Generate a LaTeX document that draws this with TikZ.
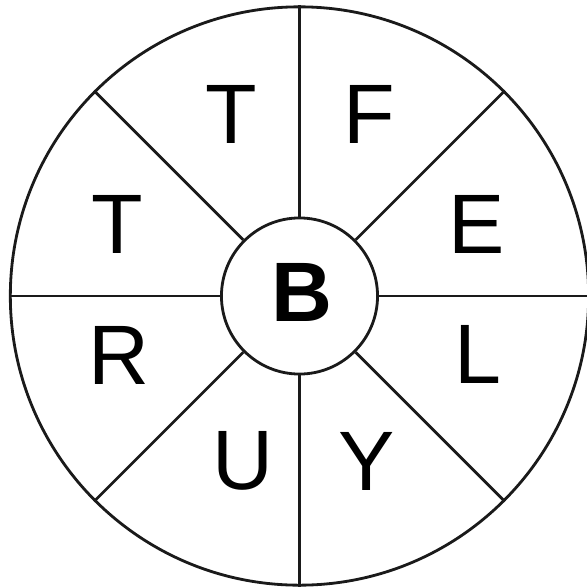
\documentclass[tikz,border=0pt]{standalone}
\usepackage{fontspec}
\setmainfont{Liberation Sans}
\usepackage{tikz}
\usetikzlibrary{shapes.geometric, positioning, calc}
\usepackage{xcolor}
\definecolor{WheelLine}{HTML}{1A1A1A}
\definecolor{WheelText}{HTML}{000000}
\definecolor{WheelFill}{HTML}{ffffff}
\tikzset{
    % Circle styles
    rim/.style={
        circle,
        draw=WheelLine,
        fill=WheelFill,
        line width=0.8pt,
        minimum size=5.78cm,
        inner sep=0pt
    },
    hub/.style={
        circle,
        draw=WheelLine,
        fill=WheelFill,
        line width=0.8pt,
        minimum size=1.56cm,
        inner sep=0pt,
        font=\fontsize{24}{28}\selectfont\bfseries,
        text=WheelText
    },
    % Letter style
    letter/.style={
        inner sep=0pt,
        font=\fontsize{24}{28}\selectfont,
        text=WheelText
    },
    % Spoke style - straight lines only
    spoke/.style={
        line width=0.8pt,
        draw=WheelLine
    }
}

\begin{document}
\begin{tikzpicture}[x=0.01cm, y=0.01cm]
    \useasboundingbox (-301,-289) rectangle (286,298);

    \node[rim] (wheel) at (-1.5,2) {};
    \node[hub] (centre) at (-1.5,2) {};

    \foreach \a in {0,45,...,315}
        \draw[spoke] (centre.\a) -- (wheel.\a);

    \node[letter] (b) at (1,6) {\bfseries B};

    \node[letter] (t1) at (-70,184) {T};
    \node[letter] (f) at (68,184) {F};
    \node[letter] (t2) at (-184,74) {T};
    \node[letter] (e) at (176,74) {E};
    \node[letter] (r) at (-182,-57) {R};
    \node[letter] (l) at (177,-56) {L};
    \node[letter] (u) at (-58,-163) {U};
    \node[letter] (y) at (66,-163) {Y};
\end{tikzpicture}
\end{document}
